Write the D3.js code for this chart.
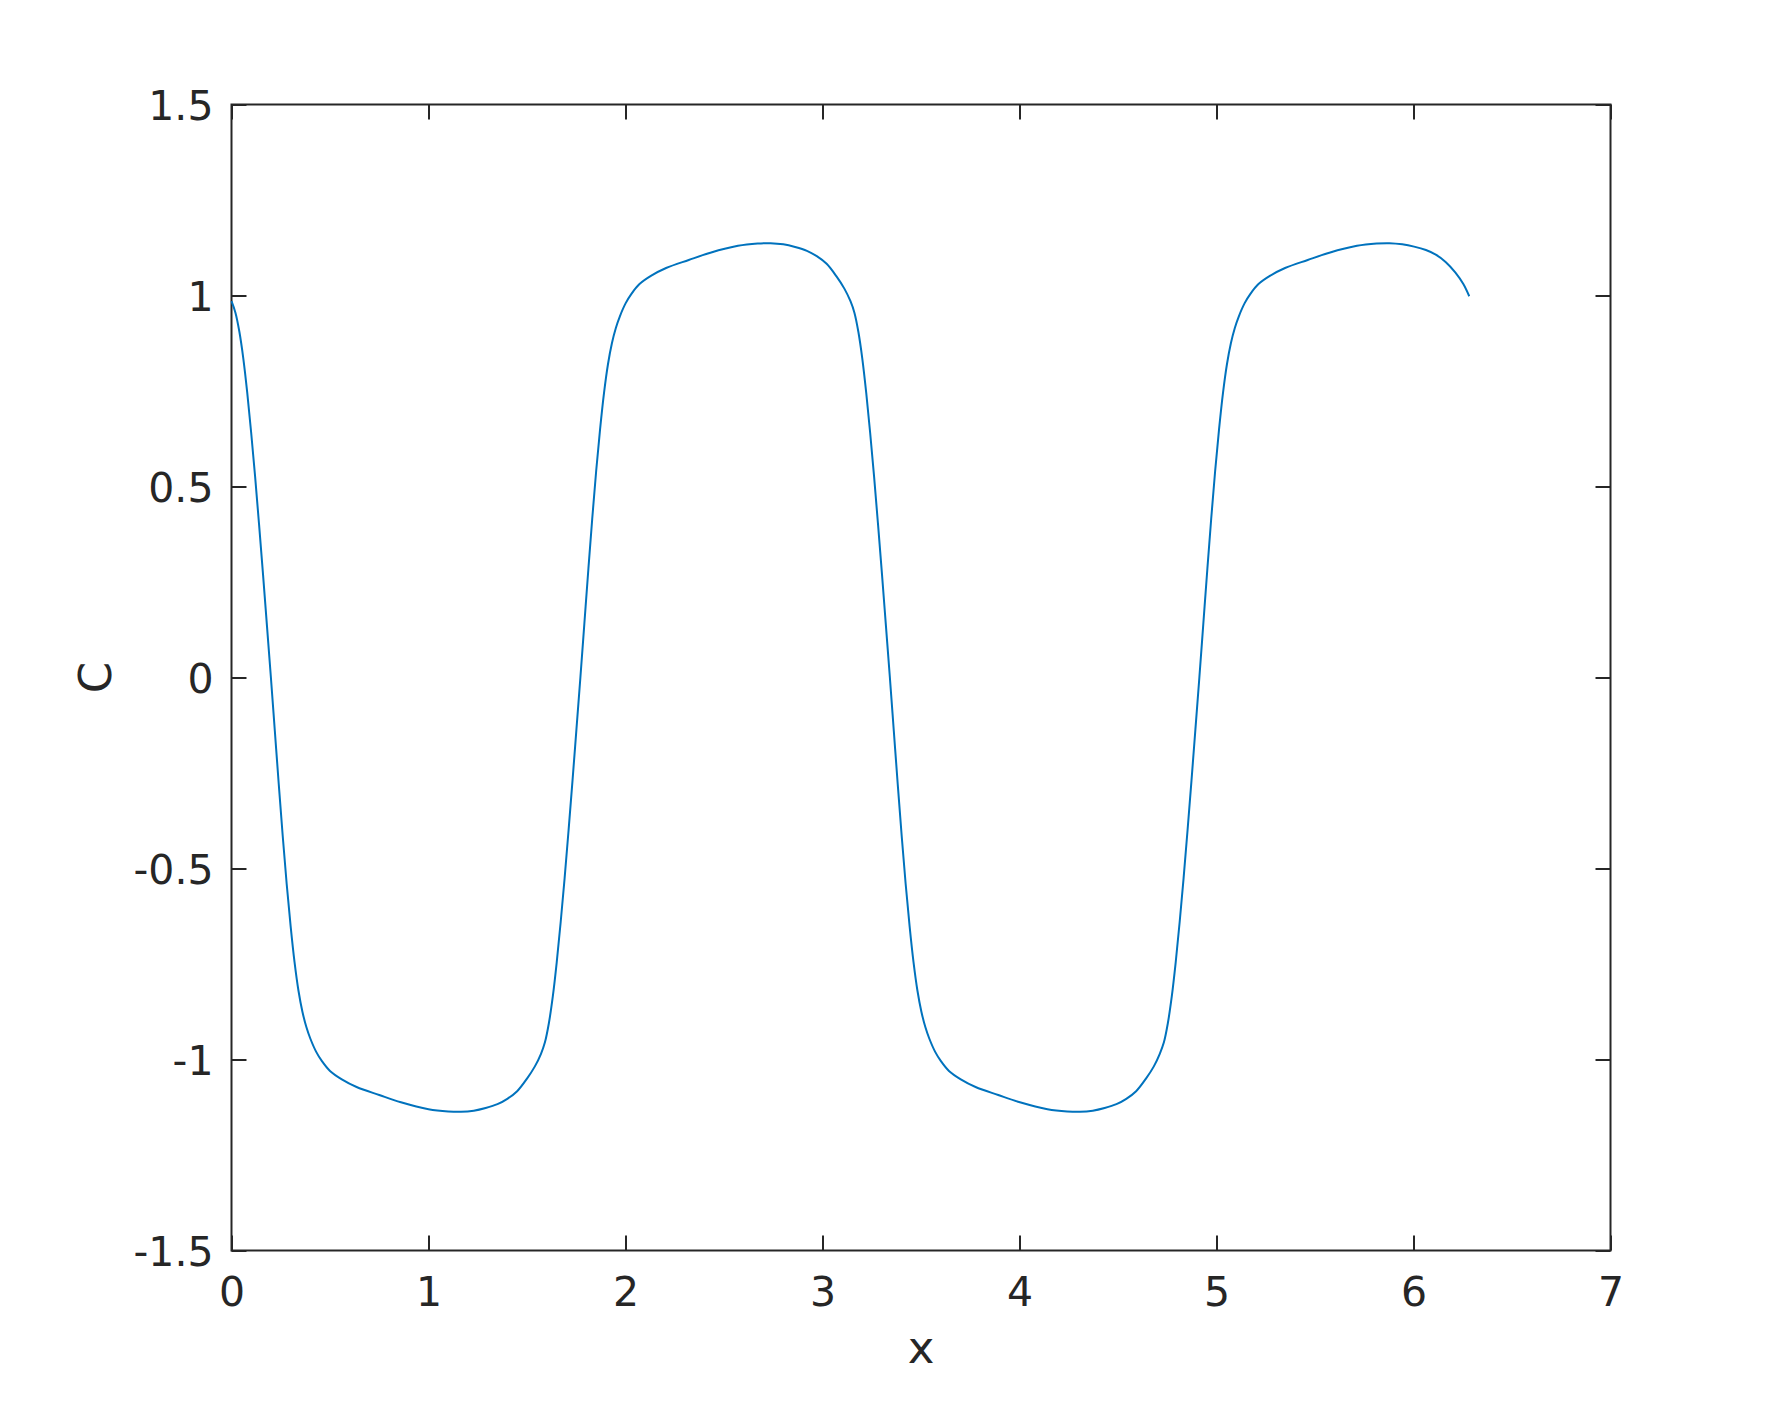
<!DOCTYPE html>
<html>
<head>
<meta charset="utf-8">
<script src="https://cdn.jsdelivr.net/npm/d3@7"></script>
<style>
  html, body { margin: 0; padding: 0; background: #fff; }
  .tick text { font-family: "DejaVu Sans", sans-serif; font-size: 41px; fill: #262626; }
  .label { font-family: "DejaVu Sans", sans-serif; font-size: 45px; fill: #262626; }
</style>
</head>
<body>
<div id="chart"></div>
<script>
// values, x in radians
const xValues = [
  0.000, 0.020, 0.040, 0.060, 0.080, 0.100, 0.120, 0.140, 0.160, 0.180,
  0.200, 0.220, 0.240, 0.260, 0.280, 0.300, 0.320, 0.340, 0.360, 0.380,
  0.400, 0.430, 0.460, 0.500, 0.560, 0.635, 0.750, 0.860, 1.000, 1.100,
  1.165, 1.230, 1.290, 1.350, 1.400, 1.450, 1.500, 1.540, 1.571,
  1.591, 1.611, 1.631, 1.651, 1.671, 1.691, 1.711, 1.731, 1.751, 1.771,
  1.791, 1.811, 1.831, 1.851, 1.871, 1.891, 1.911, 1.931, 1.951, 1.971,
  2.001, 2.031, 2.071, 2.131, 2.206, 2.321, 2.431, 2.571, 2.671, 2.736,
  2.801, 2.861, 2.921, 2.971, 3.021, 3.071, 3.111, 3.142,
  3.162, 3.182, 3.202, 3.222, 3.242, 3.262, 3.282, 3.302, 3.322,
  3.342, 3.362, 3.382, 3.402, 3.422, 3.442, 3.462, 3.482, 3.502, 3.522,
  3.542, 3.572, 3.602, 3.642, 3.702, 3.777, 3.892, 4.002, 4.142, 4.242,
  4.307, 4.372, 4.432, 4.492, 4.542, 4.592, 4.642, 4.682, 4.712,
  4.733, 4.753, 4.773, 4.793, 4.813, 4.833, 4.853, 4.873, 4.893, 4.913,
  4.933, 4.953, 4.973, 4.993, 5.013, 5.033, 5.053, 5.073, 5.093, 5.113,
  5.143, 5.173, 5.213, 5.273, 5.348, 5.463, 5.573, 5.713, 5.813, 5.878,
  5.943, 6.003, 6.063, 6.113, 6.163, 6.213, 6.253, 6.283
]
const cValues = [
  0.985, 0.955, 0.905, 0.835, 0.745, 0.640, 0.525, 0.400, 0.270, 0.135,
  0.000, -0.140, -0.280, -0.415, -0.540, -0.650, -0.745, -0.820, -0.875, -0.915,
  -0.945, -0.980, -1.005, -1.030, -1.052, -1.072, -1.093, -1.112, -1.130, -1.136,
  -1.137, -1.134, -1.127, -1.117, -1.103, -1.083, -1.050, -1.018, -0.985,
  -0.955, -0.905, -0.835, -0.745, -0.640, -0.525, -0.400, -0.270, -0.135, 0.000,
  0.140, 0.280, 0.415, 0.540, 0.650, 0.745, 0.820, 0.875, 0.915, 0.945,
  0.980, 1.005, 1.030, 1.052, 1.072, 1.093, 1.112, 1.130, 1.136, 1.137,
  1.134, 1.127, 1.117, 1.103, 1.083, 1.050, 1.018, 0.985,
  0.955, 0.905, 0.835, 0.745, 0.640, 0.525, 0.400, 0.270, 0.135,
  0.000, -0.140, -0.280, -0.415, -0.540, -0.650, -0.745, -0.820, -0.875, -0.915,
  -0.945, -0.980, -1.005, -1.030, -1.052, -1.072, -1.093, -1.112, -1.130, -1.136,
  -1.137, -1.134, -1.127, -1.117, -1.103, -1.083, -1.050, -1.018, -0.985,
  -0.955, -0.905, -0.835, -0.745, -0.640, -0.525, -0.400, -0.270, -0.135, 0.000,
  0.140, 0.280, 0.415, 0.540, 0.650, 0.745, 0.820, 0.875, 0.915, 0.945,
  0.980, 1.005, 1.030, 1.052, 1.072, 1.093, 1.112, 1.130, 1.136, 1.137,
  1.134, 1.128, 1.119, 1.107, 1.088, 1.060, 1.030, 0.998
]
const xTicks = [0, 1, 2, 3, 4, 5, 6, 7]
const yTicks = [-1.5, -1, -0.5, 0, 0.5, 1, 1.5]

const dimensions = {
  width: 1781,
  height: 1406,
  margin: { top: 104.5, right: 170.5, bottom: 155.5, left: 231.5 }
}
dimensions.boundedWidth = dimensions.width - dimensions.margin.left - dimensions.margin.right
dimensions.boundedHeight = dimensions.height - dimensions.margin.top - dimensions.margin.bottom

const data = xValues.map((x, i) => ({ x, c: cValues[i] }))

const xScale = d3.scaleLinear().domain([0, 7]).range([0, dimensions.boundedWidth])
const yScale = d3.scaleLinear().domain([-1.5, 1.5]).range([dimensions.boundedHeight, 0])

const svg = d3.select("#chart").append("svg")
    .attr("width", dimensions.width)
    .attr("height", dimensions.height)

const bounds = svg.append("g")
    .attr("transform", `translate(${dimensions.margin.left}, ${dimensions.margin.top})`)

const axisColor = "#262626"
const tickLen = 15

// axes, ticks pointing inward on all four sides
const xAxisBottom = bounds.append("g")
    .attr("transform", `translate(0, ${dimensions.boundedHeight})`)
    .call(d3.axisBottom(xScale).tickValues(xTicks).tickSizeInner(-tickLen).tickSizeOuter(0).tickPadding(26).tickFormat(d3.format("d")))
const xAxisTop = bounds.append("g")
    .call(d3.axisTop(xScale).tickValues(xTicks).tickSizeInner(-tickLen).tickSizeOuter(0).tickFormat(""))
const yAxisLeft = bounds.append("g")
    .call(d3.axisLeft(yScale).tickValues(yTicks).tickSizeInner(-tickLen).tickSizeOuter(0).tickPadding(18).tickFormat(d => String(d)))
const yAxisRight = bounds.append("g")
    .attr("transform", `translate(${dimensions.boundedWidth}, 0)`)
    .call(d3.axisRight(yScale).tickValues(yTicks).tickSizeInner(-tickLen).tickSizeOuter(0).tickFormat(""))

;[xAxisBottom, xAxisTop, yAxisLeft, yAxisRight].forEach(ax => {
  ax.select(".domain").remove()
  ax.selectAll(".tick line").attr("stroke", axisColor).attr("stroke-width", 2)
})
xAxisBottom.selectAll(".tick text").attr("dy", "0.71em")
yAxisLeft.selectAll(".tick text").attr("dy", "0.36em")

bounds.append("rect")
    .attr("x", 0)
    .attr("y", 0)
    .attr("width", dimensions.boundedWidth)
    .attr("height", dimensions.boundedHeight)
    .attr("fill", "none")
    .attr("stroke", axisColor)
    .attr("stroke-width", 2)

const lineGenerator = d3.line()
    .x(d => xScale(d.x))
    .y(d => yScale(d.c))
    .curve(d3.curveCatmullRom.alpha(0.5))

bounds.append("path")
    .datum(data)
    .attr("d", lineGenerator)
    .attr("fill", "none")
    .attr("stroke", "#0072BD")
    .attr("stroke-width", 2)

// axis labels
bounds.append("text")
    .attr("class", "label")
    .attr("x", dimensions.boundedWidth / 2)
    .attr("y", dimensions.boundedHeight + 112)
    .attr("text-anchor", "middle")
    .text("x")

bounds.append("text")
    .attr("class", "label")
    .attr("transform", `translate(${111 - dimensions.margin.left}, ${dimensions.boundedHeight / 2}) rotate(-90)`)
    .attr("text-anchor", "middle")
    .text("C")
</script>
</body>
</html>
